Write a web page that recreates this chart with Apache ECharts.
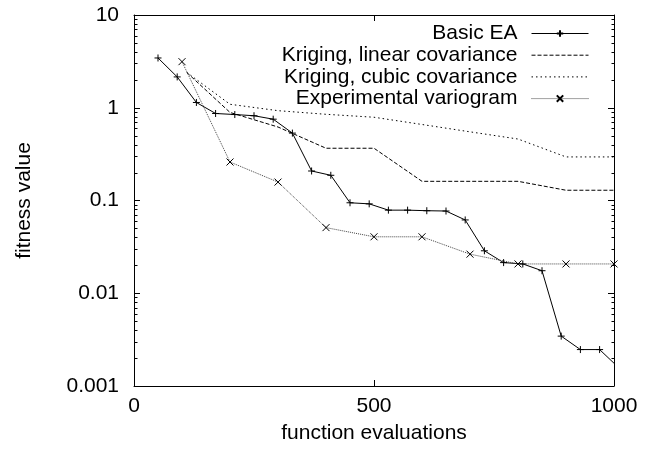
<!DOCTYPE html>
<html>
<head>
<meta charset="utf-8">
<script src="https://cdn.jsdelivr.net/npm/echarts@6/dist/echarts.min.js"></script>
<style>html,body{margin:0;padding:0;background:#fff}#c{width:671px;height:449px}</style>
</head>
<body>
<div id="c"></div>
<script>
// ---- data ----
const seriesNames = ['Basic EA', 'Kriging, linear covariance', 'Kriging, cubic covariance', 'Experimental variogram'];

const evalsEA = [50, 90, 130, 170, 210, 250, 290, 330, 370, 410, 450, 490, 530, 570, 610, 650, 690, 730, 770, 810, 850, 890, 930, 970, 1000];
const fitnessEA = [3.44, 2.15, 1.14, 0.867, 0.845, 0.82, 0.753, 0.533, 0.208, 0.187, 0.0945, 0.092, 0.0787, 0.0787, 0.0776, 0.077, 0.0617, 0.0287, 0.0214, 0.0207, 0.0175, 0.00345, 0.00247, 0.00247, 0.00176];

const evalsKriging = [110, 200, 300, 400, 500, 600, 700, 800, 900, 1000];
const fitnessLinear = [2.4, 0.89, 0.62, 0.366, 0.366, 0.161, 0.161, 0.161, 0.129, 0.129];
const fitnessCubic = [2.4, 1.09, 0.93, 0.85, 0.79, 0.66, 0.55, 0.46, 0.295, 0.295];

const evalsVariogram = [100, 200, 300, 400, 500, 600, 700, 800, 900, 1000];
const fitnessVariogram = [3.14, 0.26, 0.158, 0.051, 0.0406, 0.0406, 0.0264, 0.0207, 0.0207, 0.0207];

const xTicks = [0, 500, 1000];
const yTickLabels = ['0.001', '0.01', '0.1', '1', '10'];
const yMinorTicks = [0.002, 0.003, 0.004, 0.005, 0.006, 0.007, 0.008, 0.009,
                     0.02, 0.03, 0.04, 0.05, 0.06, 0.07, 0.08, 0.09,
                     0.2, 0.3, 0.4, 0.5, 0.6, 0.7, 0.8, 0.9,
                     2, 3, 4, 5, 6, 7, 8, 9];

// ---- chart ----
const FONT = 'Liberation Sans, Arial, Helvetica, sans-serif';
const txt = { color: '#000', fontFamily: FONT, fontSize: 21 };
const chart = echarts.init(document.getElementById('c'), null, { renderer: 'canvas' });

function pairs(xs, ys) { return xs.map((x, i) => [x, ys[i]]); }

const plusSym = 'path://M0,5L10,5M5,0L5,10';
const crossSym = 'path://M0,0L10,10M10,0L0,10';

const xBase = {
  type: 'value', min: xTicks[0], max: xTicks[xTicks.length - 1], interval: xTicks[1] - xTicks[0],
  axisLine: { show: true, onZero: false, lineStyle: { color: '#000', width: 1 } },
  axisTick: { show: true, inside: true, length: 6, lineStyle: { color: '#000', width: 1 } },
  splitLine: { show: false }
};
const yBase = {
  type: 'log', logBase: 10, min: 0.001, max: 10,
  axisLine: { show: true, onZero: false, lineStyle: { color: '#000', width: 1 } },
  axisTick: { show: true, inside: true, length: 6, lineStyle: { color: '#000', width: 1 } },
  splitLine: { show: false }
};

const noSymbolLegend = { itemStyle: { opacity: 0 } };

const option = {
  animation: false,
  backgroundColor: '#fff',
  grid: { left: 134, right: 57, top: 15, bottom: 60, containLabel: false },
  xAxis: [
    Object.assign({}, xBase, {
      position: 'bottom',
      axisLabel: Object.assign({ margin: 10, formatter: v => String(v) }, txt),
      name: 'function evaluations', nameLocation: 'middle', nameGap: 37,
      nameTextStyle: txt
    }),
    Object.assign({}, xBase, { position: 'top', axisLabel: { show: false } })
  ],
  yAxis: [
    Object.assign({}, yBase, {
      position: 'left',
      axisLabel: Object.assign({
        margin: 15,
        formatter: v => yTickLabels[Math.round(Math.log10(v)) + 3]
      }, txt),
      name: 'fitness value', nameLocation: 'middle', nameGap: 99,
      nameTextStyle: txt
    }),
    Object.assign({}, yBase, { position: 'right', axisLabel: { show: false } })
  ],
  legend: seriesNames.map((n, i) => Object.assign({
    data: [n], orient: 'vertical', align: 'right', right: 82, top: 23 + i * 21.7,
    itemWidth: 57, itemHeight: 8, selectedMode: false, padding: 0,
    lineStyle: { width: 1 },
    textStyle: Object.assign({ padding: [0, 9, 0, 0] }, txt)
  }, (i === 1 || i === 2) ? noSymbolLegend : {})),
  series: [
    {
      name: seriesNames[0], type: 'line',
      data: pairs(evalsEA, fitnessEA).map((p, i) => i === evalsEA.length - 1 ? { value: p, symbol: 'none' } : p),
      symbol: plusSym, symbolSize: 7, showSymbol: true,
      lineStyle: { color: '#000', width: 1 },
      itemStyle: { color: 'none', borderColor: '#000', borderWidth: 1 }
    },
    {
      name: seriesNames[1], type: 'line', data: pairs(evalsKriging, fitnessLinear),
      symbol: 'none', lineStyle: { color: '#000', width: 1, type: [4, 2] },
      itemStyle: { color: '#000' }
    },
    {
      name: seriesNames[2], type: 'line', data: pairs(evalsKriging, fitnessCubic),
      symbol: 'none', lineStyle: { color: '#000', width: 1, type: [1.5, 3] },
      itemStyle: { color: '#000' }
    },
    {
      name: seriesNames[3], type: 'line', data: pairs(evalsVariogram, fitnessVariogram),
      symbol: crossSym, symbolSize: 7,
      lineStyle: { color: '#444', width: 1, type: [1, 1] },
      itemStyle: { color: 'none', borderColor: '#000', borderWidth: 1 }
    },
    {
      type: 'custom', silent: true, clip: false, z: 5,
      data: yMinorTicks.map(v => [0, v]),
      renderItem: function (params, api) {
        const v = api.value(1);
        const l = api.coord([xTicks[0], v]);
        const r = api.coord([xTicks[xTicks.length - 1], v]);
        const y = Math.round(l[1]) + 0.5;
        const lx = Math.round(l[0]) + 0.5, rx = Math.round(r[0]) + 0.5;
        return {
          type: 'group',
          children: [
            { type: 'line', shape: { x1: lx, y1: y, x2: lx + 3, y2: y }, style: { stroke: '#000', lineWidth: 1 } },
            { type: 'line', shape: { x1: rx - 3, y1: y, x2: rx, y2: y }, style: { stroke: '#000', lineWidth: 1 } }
          ]
        };
      }
    }
  ]
};
chart.setOption(option);
</script>
</body>
</html>
